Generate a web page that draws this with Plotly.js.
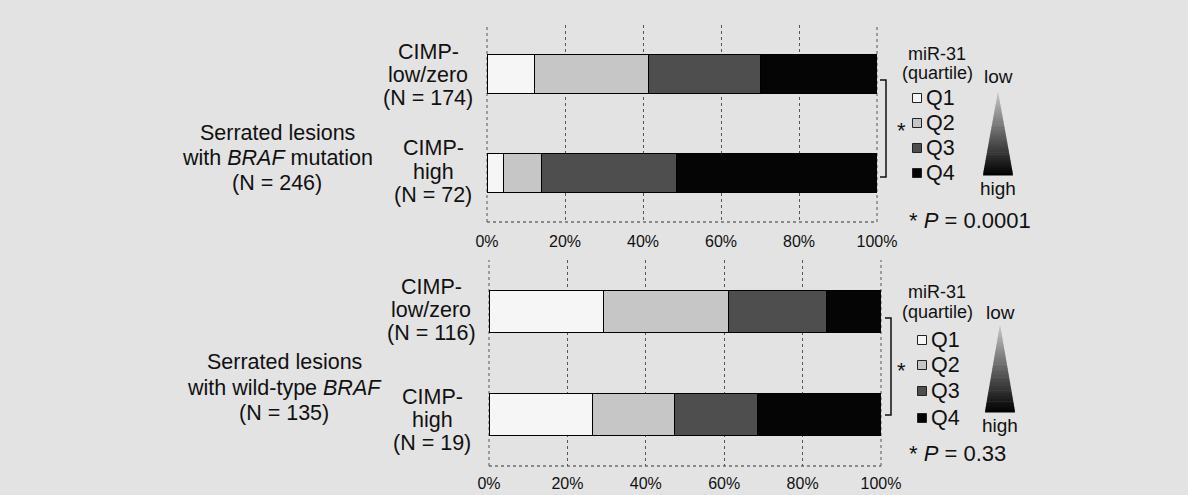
<!DOCTYPE html>
<html>
<head>
<meta charset="utf-8">
<script src="https://cdn.plot.ly/plotly-3.0.1.min.js"></script>
<style>html,body{margin:0;padding:0;background:#e3e3e3;}#chart{width:1188px;height:495px;}</style>
</head>
<body>
<div id="chart"></div>
<script>
// ---- data (percent of lesions in each miR-31 quartile) ----
const rowKeys = ['low', 'high'];
const mutLabels = [['CIMP-', 'low/zero', '(N = 174)'], ['CIMP-', 'high', '(N = 72)']];
const wtLabels = [['CIMP-', 'low/zero', '(N = 116)'], ['CIMP-', 'high', '(N = 19)']];
const mutGroupLabel = ['Serrated lesions', 'with <i>BRAF</i> mutation', '(N = 246)'];
const wtGroupLabel = ['Serrated lesions', 'with wild-type <i>BRAF</i>', '(N = 135)'];
const quartiles = ['Q1', 'Q2', 'Q3', 'Q4'];
const mutQ1 = [12.1, 4.2];
const mutQ2 = [29.3, 9.7];
const mutQ3 = [28.7, 34.7];
const mutQ4 = [29.9, 51.4];
const wtQ1 = [29.3, 26.3];
const wtQ2 = [31.9, 21.1];
const wtQ3 = [25.0, 21.1];
const wtQ4 = [13.8, 31.6];
const xTicks = [0, 20, 40, 60, 80, 100];
const xTickText = ['0%', '20%', '40%', '60%', '80%', '100%'];
const mutP = '* <i>P</i> = 0.0001';
const wtP = '* <i>P</i> = 0.33';

// ---- styling ----
const W = 1188, H = 495;
const FONT = 'Arial, "Liberation Sans", sans-serif';
const qColors = ['#f6f6f6', '#c6c6c6', '#4e4e4e', '#050505'];
const BG = '#e3e3e3';
const px = x => x / W;
const py = y => 1 - y / H;

const traces = [];
const mutSeries = [mutQ1, mutQ2, mutQ3, mutQ4];
const wtSeries = [wtQ1, wtQ2, wtQ3, wtQ4];
quartiles.forEach((q, i) => {
  traces.push({type: 'bar', orientation: 'h', name: q, x: mutSeries[i], y: rowKeys,
    xaxis: 'x', yaxis: 'y', marker: {color: qColors[i], line: {color: '#000', width: 1}},
    showlegend: false, hoverinfo: 'skip'});
  traces.push({type: 'bar', orientation: 'h', name: q, x: wtSeries[i], y: rowKeys,
    xaxis: 'x2', yaxis: 'y2', marker: {color: qColors[i], line: {color: '#000', width: 1}},
    showlegend: false, hoverinfo: 'skip'});
});

function xax(domain, anchor, tl) {
  return {domain: domain, anchor: anchor, range: [0, 100], tickvals: xTicks, ticktext: xTickText,
    showgrid: true, gridcolor: '#555', griddash: 'dot', gridwidth: 1, zeroline: false,
    showline: false, ticks: 'outside', ticklen: tl, tickcolor: 'rgba(0,0,0,0)',
    tickfont: {family: FONT, size: 16, color: '#111'}, fixedrange: true, layer: 'below traces'};
}
function yax(domain, anchor) {
  return {domain: domain, anchor: anchor, type: 'category', categoryorder: 'array', categoryarray: rowKeys,
    autorange: 'reversed', showticklabels: false, showgrid: false, zeroline: false, showline: false,
    ticks: '', fixedrange: true};
}

const annotations = [];
const shapes = [];
function txt(t, x, y, size, anchor) {
  annotations.push({text: t, x: px(x), y: py(y), xref: 'paper', yref: 'paper', showarrow: false,
    xanchor: anchor || 'center', yanchor: 'middle', font: {family: FONT, size: size, color: '#111'}});
}

// row labels
function rowLabel(lines, cx, ys) { lines.forEach((l, i) => txt(l, cx, ys[i], 21.5)); }
rowLabel(mutLabels[0], 428, [52, 75, 98]);
rowLabel(mutLabels[1], 433, [148, 172, 195]);
rowLabel(wtLabels[0], 431, [287, 310, 333]);
rowLabel(wtLabels[1], 432, [397, 420, 443]);
rowLabel(mutGroupLabel, 277, [133, 158, 183]);
rowLabel(wtGroupLabel, 284, [362, 388, 413]);

// legend blocks
function legendBlock(cxTitle, yTitle1, yTitle2, markerX, qYs, bracketX, bY1, bY2, starY, triX, apexY, baseY, lowY, highY, pText, pY) {
  txt('miR-31', cxTitle, yTitle1, 18);
  txt('(quartile)', cxTitle, yTitle2, 18);
  quartiles.forEach((q, i) => {
    shapes.push({type: 'rect', xref: 'paper', yref: 'paper', x0: px(markerX - 4.5), x1: px(markerX + 4.5),
      y0: py(qYs[i] + 4.5), y1: py(qYs[i] - 4.5), fillcolor: qColors[i], line: {color: '#222', width: 1}});
    txt(q, markerX + 7, qYs[i], 21.5, 'left');
  });
  shapes.push({type: 'path', xref: 'paper', yref: 'paper',
    path: `M ${px(bracketX - 6)} ${py(bY1)} L ${px(bracketX)} ${py(bY1)} L ${px(bracketX)} ${py(bY2)} L ${px(bracketX - 6)} ${py(bY2)}`,
    line: {color: '#111', width: 1.5}});
  txt('*', 901, starY + 3, 22);
  txt('low', triX, lowY, 19);
  txt('high', triX, highY, 19);
  const n = 40, half = 15;
  for (let k = 0; k < n; k++) {
    const t0 = k / n, t1 = (k + 1) / n;
    const ya = apexY + (baseY - apexY) * t0, yb = apexY + (baseY - apexY) * t1 + 0.6;
    const wa = half * t0, wb = half * Math.min(1, t1 + 0.02);
    const g = Math.round(200 * Math.pow(1 - (t0 + t1) / 2, 1.0));
    const c = `rgb(${g},${g},${g})`;
    shapes.push({type: 'path', xref: 'paper', yref: 'paper', line: {width: 0}, fillcolor: c,
      path: `M ${px(triX - wa)} ${py(ya)} L ${px(triX + wa)} ${py(ya)} L ${px(triX + wb)} ${py(yb)} L ${px(triX - wb)} ${py(yb)} Z`});
  }
  txt(pText, 907, pY, 22, 'left');
}
legendBlock(937, 54, 73, 917, [98, 123, 148, 173], 886, 80, 177, 128, 998, 92, 175, 76, 188, mutP, 220);
legendBlock(937, 292, 312, 922, [340, 365, 391, 418], 891, 318, 415, 367, 1000, 325, 412, 312, 425, wtP, 453);

// dotted baseline and edge gridlines of each axis
[['x', 'y'], ['x2', 'y2']].forEach(([xa, ya]) => {
  shapes.push({type: 'line', xref: xa + ' domain', yref: ya + ' domain', x0: 0, x1: 1, y0: 0, y1: 0,
    line: {color: '#333', width: 1.2, dash: 'dot'}, layer: 'below'});
  [0, 1].forEach(e => shapes.push({type: 'line', xref: xa + ' domain', yref: ya + ' domain', x0: e, x1: e, y0: 0, y1: 1,
    line: {color: '#555', width: 1, dash: 'dot'}, layer: 'below'}));
});

const layout = {
  width: W, height: H,
  margin: {l: 0, r: 0, t: 0, b: 0},
  paper_bgcolor: BG, plot_bgcolor: BG,
  barmode: 'stack', bargap: 0.6,
  showlegend: false,
  xaxis: xax([px(487), px(877)], 'y', 5),
  yaxis: yax([py(222), py(25)], 'x'),
  xaxis2: xax([px(489), px(881)], 'y2', 3),
  yaxis2: yax([py(466), py(260)], 'x2'),
  annotations: annotations,
  shapes: shapes
};

Plotly.newPlot('chart', traces, layout, {displayModeBar: false, staticPlot: true});
</script>
</body>
</html>
